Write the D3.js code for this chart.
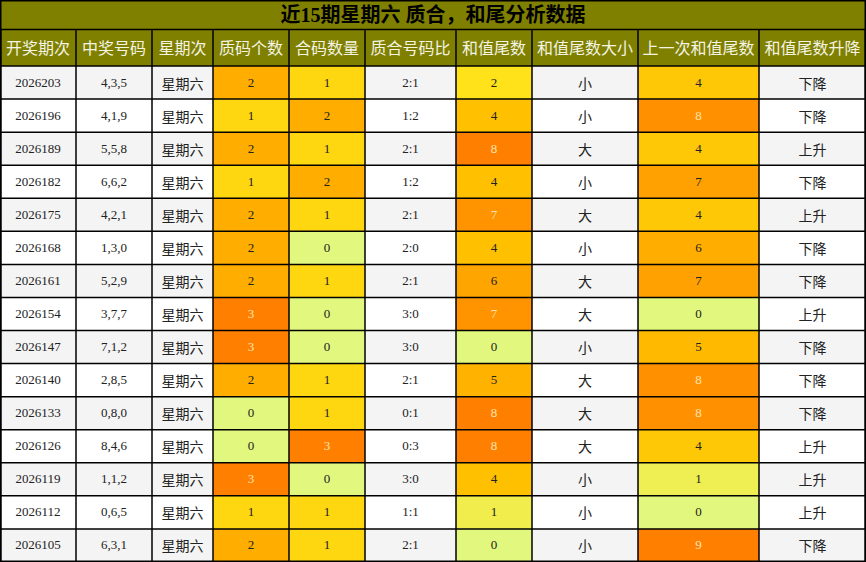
<!DOCTYPE html><html><head><meta charset="utf-8">
<script src="https://cdn.jsdelivr.net/npm/d3@7"></script>
<style>body{margin:0;background:#fff}</style></head><body><svg id="c" width="866" height="562"></svg>
<script>
const title = "近15期星期六 质合，和尾分析数据";
const headers = ["开奖期次","中奖号码","星期次","质码个数","合码数量","质合号码比","和值尾数","和值尾数大小","上一次和值尾数","和值尾数升降"];
const issues = ["2026203","2026196","2026189","2026182","2026175","2026168","2026161","2026154","2026147","2026140","2026133","2026126","2026119","2026112","2026105"];
const numbers = ["4,3,5","4,1,9","5,5,8","6,6,2","4,2,1","1,3,0","5,2,9","3,7,7","7,1,2","2,8,5","0,8,0","8,4,6","1,1,2","0,6,5","6,3,1"];
const primeCount = [2,1,2,1,2,2,2,3,3,2,0,0,3,1,2];
const compCount = [1,2,1,2,1,0,1,0,0,1,1,3,0,1,1];
const sumTail = [2,4,8,4,7,4,6,7,0,5,8,8,4,1,0];
const sizeLabel = ["小","小","大","小","大","小","大","大","小","大","大","大","小","小","小"];
const prevTail = [4,8,4,7,4,6,7,0,5,8,8,4,1,0,9];
const trend = ["下降","下降","上升","下降","上升","下降","下降","上升","下降","下降","下降","上升","上升","上升","下降"];

const edges=[0,76,152,213,289,365,456,532,638,759,866];
const svg=d3.select("#c");
const x=d3.scaleOrdinal().domain(d3.range(10)).range(edges.slice(0,10));
const y=d3.scaleBand().domain(d3.range(15)).range([66,562]);
const olive="#808000";
svg.append("rect").attr("x",0).attr("y",0).attr("width",866).attr("height",66).attr("fill",olive);
svg.append("text").attr("x",433).attr("y",22).attr("text-anchor","middle").attr("font-size",20).attr("font-weight","bold")
 .attr("font-family","'Liberation Serif','Noto Sans CJK SC'").attr("fill","#000").text(title);
headers.forEach((h,i)=>{svg.append("text").attr("x",(edges[i]+edges[i+1])/2).attr("y",54).attr("text-anchor","middle")
 .attr("font-size",16).attr("font-family","'Noto Sans CJK SC'").attr("fill","#f4f4e4").text(h);});
const pal=["#e2f77e","#ffe21a","#ffc000","#ffa500","#ff8000"];
const interp=d3.piecewise(d3.interpolateRgb,pal);
function scaleFor(arr){const [a,b]=d3.extent(arr);return v=>(v-a)/(b-a);}
const cols=[issues,numbers,d3.range(15).map(()=>"星期六"),primeCount,compCount,issues.map((_,i)=>primeCount[i]+":"+compCount[i]),sumTail,sizeLabel,prevTail,trend];
const colored={3:scaleFor(primeCount),4:scaleFor(compCount),6:scaleFor(sumTail),8:scaleFor(prevTail)};
const cjk={2:1,7:1,9:1};
for(let r=0;r<15;r++){for(let c=0;c<10;c++){
 const v=cols[c][r];let fill=r%2?"#ffffff":"#f4f4f4",tc="#222";
 if(colored[c]){const t=colored[c](v);fill=interp(t);if(t>0.8)tc="#ffe4b0";}
 const x0=edges[c],w=edges[c+1]-edges[c];
 svg.append("rect").attr("x",x0).attr("y",y(r)).attr("width",w).attr("height",y.bandwidth()).attr("fill",fill);
 svg.append("text").attr("x",x0+w/2).attr("y",y(r)+y.bandwidth()/2+(cjk[c]?6:4)).attr("text-anchor","middle")
  .attr("font-size",cjk[c]?14:13).attr("font-family",cjk[c]?"'Noto Sans CJK SC'":"'Liberation Serif'").attr("fill",tc).text(v);
}}
// grid lines
const g=svg.append("g").attr("stroke","#000").attr("stroke-width",1.5);
g.append("line").attr("x1",0).attr("x2",866).attr("y1",29.5).attr("y2",29.5);
[...y.domain().map(d=>y(d)),562].forEach(v=>g.append("line").attr("x1",0).attr("x2",866).attr("y1",v).attr("y2",v));
edges.forEach(e=>g.append("line").attr("x1",Math.min(Math.max(e,0.75),865.25)).attr("x2",Math.min(Math.max(e,0.75),865.25)).attr("y1",30).attr("y2",562));
g.append("rect").attr("x",0.75).attr("y",0.75).attr("width",864.5).attr("height",560.5).attr("fill","none");
</script></body></html>
